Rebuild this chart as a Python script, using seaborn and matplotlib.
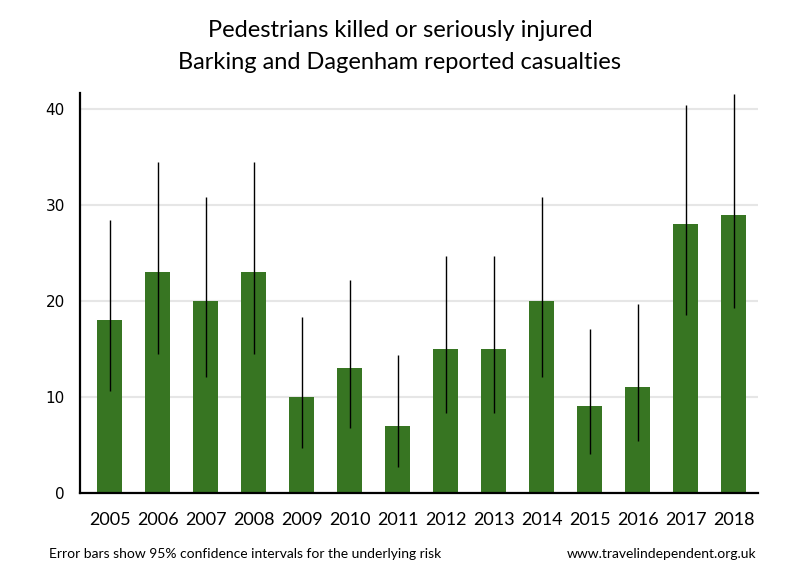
import matplotlib
matplotlib.use('Agg')
import matplotlib.pyplot as plt
import pandas as pd
import seaborn as sns

# Data
years = ['2005', '2006', '2007', '2008', '2009', '2010', '2011',
         '2012', '2013', '2014', '2015', '2016', '2017', '2018']
casualties = [18, 23, 20, 23, 10, 13, 7, 15, 15, 20, 9, 11, 28, 29]
ci_lower = [10.6, 14.5, 12.1, 14.5, 4.7, 6.8, 2.7, 8.3, 8.3, 12.1, 4.0, 5.4, 18.5, 19.3]
ci_upper = [28.4, 34.5, 30.8, 34.5, 18.3, 22.2, 14.4, 24.7, 24.7, 30.8, 17.1, 19.7, 40.4, 41.6]

df = pd.DataFrame({'year': years, 'value': casualties,
                   'lower': ci_lower, 'upper': ci_upper})

sns.set_style('white')
plt.rcParams['font.family'] = ['Lato', 'DejaVu Sans']
plt.rcParams['text.color'] = 'black'
plt.rcParams['xtick.color'] = 'black'
plt.rcParams['ytick.color'] = 'black'

fig = plt.figure(figsize=(8, 5.8), dpi=100)
ax = fig.add_axes([0.1, 0.1505, 0.8475, 0.6892])

sns.barplot(data=df, x='year', y='value', color='#377522', saturation=1,
            width=0.52, errorbar=None, linewidth=0, ax=ax, zorder=2)
ax.vlines(range(len(df)), df['lower'], df['upper'], color='black',
          linewidth=1.0, zorder=3)

ax.set_ylim(0, 41.7)
ax.set_xlim(-0.615, 13.51)
ax.set_yticks([0, 10, 20, 30, 40])
ax.yaxis.grid(True, color='#e6e6e6', linewidth=1.5, zorder=0)
ax.set_axisbelow(True)

for s in ['top', 'right']:
    ax.spines[s].set_visible(False)
for s in ['left', 'bottom']:
    ax.spines[s].set_color('black')
    ax.spines[s].set_linewidth(1.6)

ax.tick_params(axis='y', direction='out', length=7, width=1.5, color='black',
               labelcolor='black', labelsize=11, pad=4)
ax.tick_params(axis='x', length=0, labelcolor='black', labelsize=13, pad=14)
for lbl in ax.get_yticklabels():
    lbl.set_family('DejaVu Sans')
ax.set_xlabel('')
ax.set_ylabel('')

fig.text(0.5, 0.936, 'Pedestrians killed or seriously injured', ha='center',
         va='baseline', fontsize=17)
fig.text(0.5, 0.881, 'Barking and Dagenham reported casualties', ha='center',
         va='baseline', fontsize=17)
fig.text(0.061, 0.038, 'Error bars show 95% confidence intervals for the underlying risk',
         ha='left', va='baseline', fontsize=10)
fig.text(0.945, 0.038, 'www.travelindependent.org.uk', ha='right',
         va='baseline', fontsize=10)

fig.savefig('out.png', dpi=100)
